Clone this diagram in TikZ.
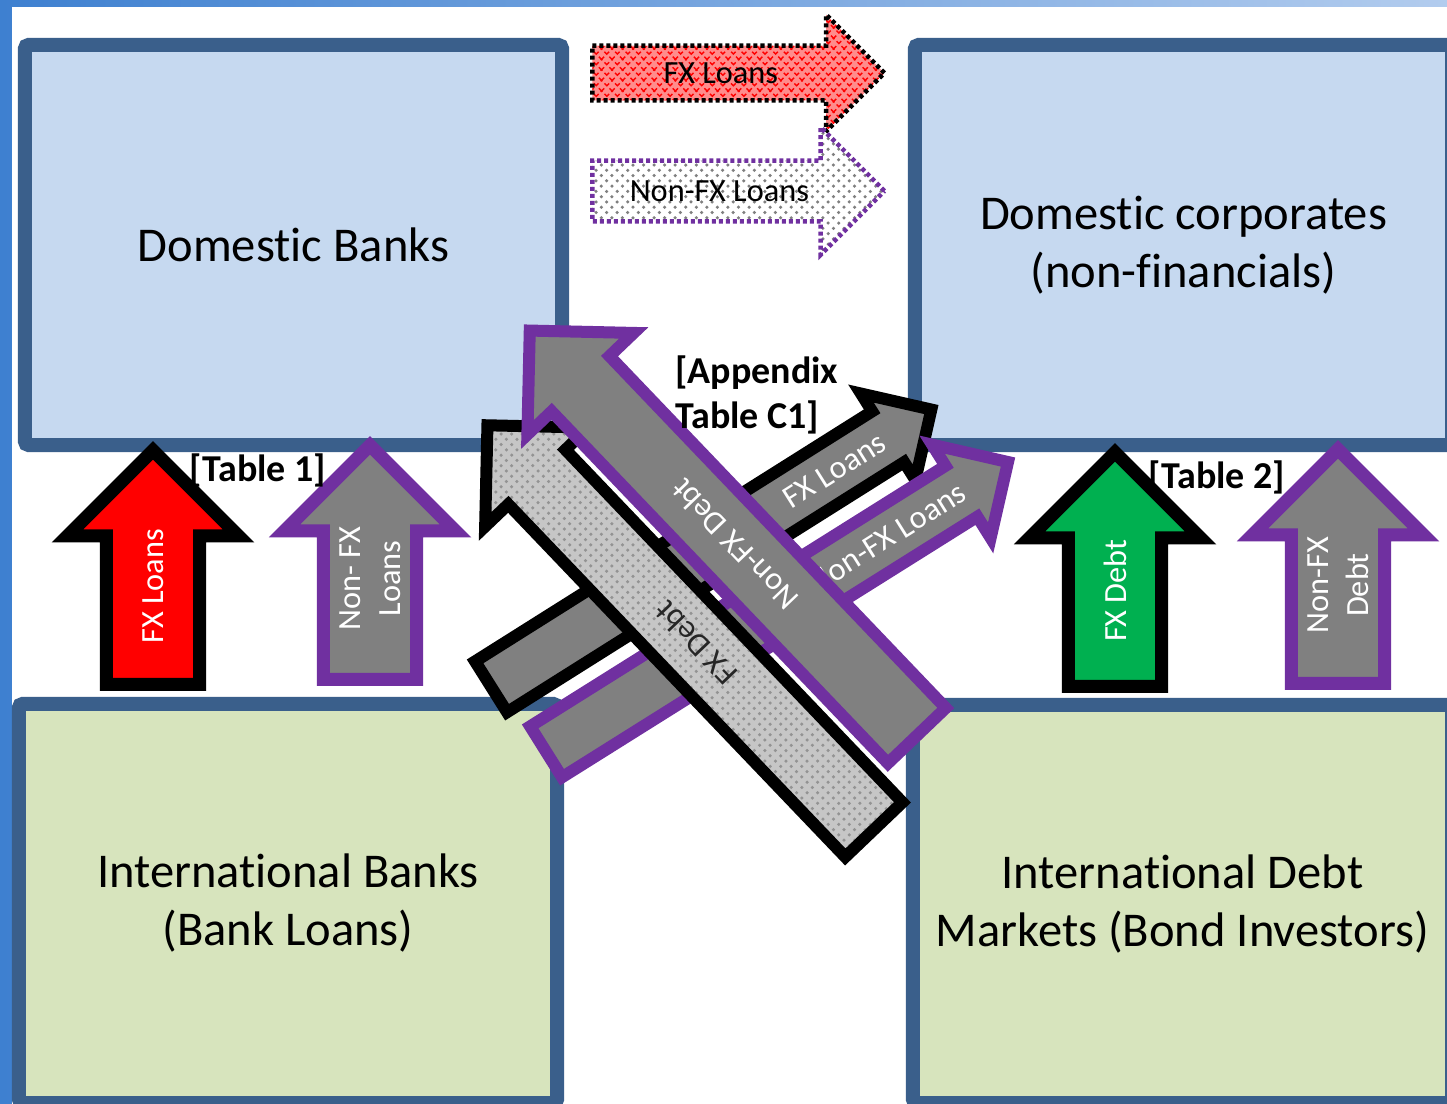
\documentclass[tikz,border=0pt]{standalone}
\usepackage{fontspec}
\setmainfont{Carlito}[Ligatures=NoCommon]
\usepackage{tikz}
\usetikzlibrary{shapes.arrows,patterns,positioning}

\definecolor{frameleft}{RGB}{62,128,208}
\definecolor{frameright}{RGB}{178,204,238}
\definecolor{boxblue}{RGB}{58,95,139}
\definecolor{corpfill}{RGB}{198,217,240}
\definecolor{bankfill}{RGB}{215,228,189}
\definecolor{fxpurple}{RGB}{112,48,160}
\definecolor{fxgreen}{RGB}{0,176,80}
\definecolor{fxgray}{RGB}{128,128,128}

\begin{document}
\begin{tikzpicture}[x=0.01cm,y=-0.01cm,
    sector/.style={draw=boxblue,line width=0.14cm,rounded corners=0.04cm,inner sep=0pt,align=center,
        font=\fontsize{13.8}{16.5}\selectfont},
    flow/.style={single arrow,single arrow head extend=0.39cm,inner xsep=0pt,inner ysep=0.40cm,
        minimum height=2.34cm,line width=0.13cm,anchor=tail,rotate=90},
    slant/.style={single arrow,line width=0.12cm,inner xsep=0pt,anchor=tail},
    banner/.style={single arrow,line width=0.045cm,dash pattern=on 0.04cm off 0.03cm,
        inner xsep=0pt,anchor=tail,minimum height=2.92cm},
    tag/.style={font=\fontsize{10.8}{13}\selectfont\bfseries},
    flowtext/.style={font=\fontsize{9.2}{11.5}\selectfont,sloped,allow upside down,align=center}]

    \useasboundingbox (0,0) rectangle (1447,1104);
    \clip (0,0) rectangle (1447,1104);
    \shade[left color=frameleft,right color=frameright] (0,0) rectangle (1447,1104);
    \fill[white] (12,7) rectangle (1447,1104);

    % The sectors
    \node[sector,fill=corpfill,minimum width=5.37cm,minimum height=4.00cm] (dombanks) at (293.5,245) {Domestic Banks};
    \node[sector,fill=corpfill,minimum width=5.37cm,minimum height=4.00cm] (domcorp) at (1183.5,245) {Domestic corporates\\(non-financials)};
    \node[sector,fill=bankfill,minimum width=5.38cm,minimum height=3.99cm] (intbanks) at (288,903.5) {International Banks\\(Bank Loans)};
    \node[sector,fill=bankfill,minimum width=5.39cm,minimum height=3.98cm] (intdebt) at (1182.5,904) {International Debt\\Markets (Bond Investors)};

    % Upward flows
    \node[flow,fill=red,draw=black] (bankfx) at (153,691) {};
    \node[flow,fill=fxgray,draw=fxpurple] (banknonfx) at (370,686) {};
    \node[flow,fill=fxgreen,draw=black] (bondfx) at (1115,693) {};
    \node[flow,fill=fxgray,draw=fxpurple] (bondnonfx) at (1338,690) {};

    \path (bankfx.tail) -- (bankfx.tip) node[flowtext,pos=0.42,text=white] {FX Loans};
    \path (banknonfx.tail) -- (banknonfx.tip) node[flowtext,pos=0.43,text=white] {Non- FX\\Loans};
    \path (bondfx.tail) -- (bondfx.tip) node[flowtext,pos=0.41,text=white] {FX Debt};
    \path (bondnonfx.tail) -- (bondnonfx.tip) node[flowtext,pos=0.42,text=white] {Non-FX\\Debt};

    % Legend arrows
    \node[banner,inner ysep=0.25cm,single arrow head extend=0.31cm,draw=black,
        preaction={fill=red!45},pattern=crosshatch,pattern color=red] (keyfx) at (590,73) {};
    \node[banner,inner ysep=0.28cm,single arrow head extend=0.335cm,draw=fxpurple,
        preaction={fill=white},pattern=crosshatch dots,pattern color=gray] (keynonfx) at (590,191) {};
    \path (keyfx.tail) -- (keyfx.tip) node[flowtext,pos=0.44] {FX Loans};
    \path (keynonfx.tail) -- (keynonfx.tip) node[flowtext,pos=0.435] {Non-FX Loans};

    % Cross-border flows, each label right after its arrow
    \node[slant,rotate=32.2,inner ysep=0.24cm,single arrow head extend=0.21cm,minimum height=5.20cm,
        fill=fxgray,draw=black] (crossfx) at (486,690) {};
    \path (crossfx.tail) -- (crossfx.tip) node[flowtext,pos=0.77,text=white] {FX Loans};
    \node[slant,rotate=32.1,inner ysep=0.24cm,single arrow head extend=0.25cm,minimum height=5.45cm,
        fill=fxgray,draw=fxpurple] (crossnonfx) at (541,755) {};
    \path (crossnonfx.tail) -- (crossnonfx.tip) node[flowtext,pos=0.73,text=white] {Non-FX Loans};
    \node[slant,rotate=133.7,inner ysep=0.335cm,single arrow head extend=0.32cm,minimum height=5.59cm,
        draw=black,preaction={fill=gray!45},pattern=crosshatch dots,pattern color=gray!85] (debtfx) at (878,834) {};
    \path (debtfx.tail) -- (debtfx.tip) node[flowtext,pos=0.46,text=black!85] {FX Debt};
    \node[slant,rotate=133.7,inner ysep=0.34cm,single arrow head extend=0.335cm,minimum height=5.60cm,
        fill=fxgray,draw=fxpurple] (debtnonfx) at (921,740) {};
    \path (debtnonfx.tail) -- (debtnonfx.tip) node[flowtext,pos=0.47,text=white] {Non-FX Debt};

    % Sources
    \node[tag] (tabone) at (258,470) {[Table 1]};
    \node[tag] (tabtwo) at (1217,477) {[Table 2]};
    \node[tag,align=left,anchor=west] (tabapp) at (663,395) {[Appendix\\Table C1]};
\end{tikzpicture}
\end{document}
